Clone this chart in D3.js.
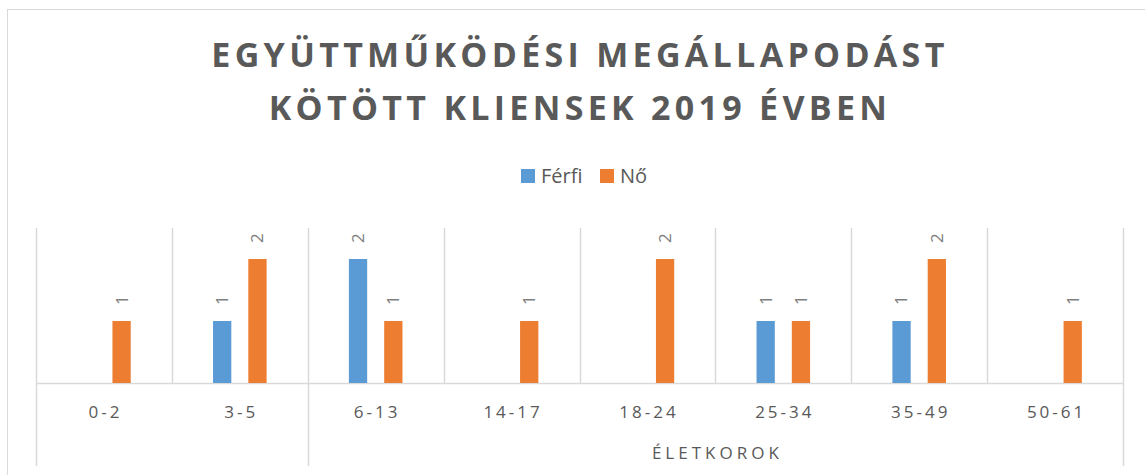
<!DOCTYPE html>
<html>
<head>
<meta charset="utf-8">
<script src="https://cdn.jsdelivr.net/npm/d3@7"></script>
<style>
  body { margin: 0; background: #fff; }
  text { font-family: "Open Sans", "DejaVu Sans", sans-serif; }
</style>
</head>
<body>
<div id="chart"></div>
<script>
// data
const titleLines = ["EGYÜTTMŰKÖDÉSI MEGÁLLAPODÁST", "KÖTÖTT KLIENSEK 2019 ÉVBEN"];
const categories = ["0-2", "3-5", "6-13", "14-17", "18-24", "25-34", "35-49", "50-61"];
const seriesNames = ["Férfi", "Nő"];
const ferfi = [null, 1, 2, null, null, 1, 1, null];
const no = [1, 2, 1, 1, 2, 1, 2, 1];
const groups = [
  { label: "", from: "0-2", to: "3-5" },
  { label: "ÉLETKOROK", from: "6-13", to: "50-61" }
];
const yMax = 2.5;

const colors = { "Férfi": "#5B9BD5", "Nő": "#ED7D31" };
const W = 1145, H = 475;
const plot = { left: 36, right: 1123, top: 228, bottom: 383 };

const svg = d3.select("#chart").append("svg")
    .attr("width", W)
    .attr("height", H);

// outer chart border
svg.append("rect")
    .attr("x", 7.5).attr("y", 9.5)
    .attr("width", W).attr("height", H)
    .attr("fill", "none")
    .attr("stroke", "#D9D9D9");

// title
svg.append("text")
    .attr("text-anchor", "middle")
    .attr("fill", "#595959")
    .style("font-size", "34px")
    .style("font-weight", "bold")
    .style("letter-spacing", "4.3px")
  .selectAll("tspan")
  .data(titleLines)
  .enter().append("tspan")
    .attr("x", 580)
    .attr("y", (d, i) => 67 + i * 53)
    .text(d => d);

// scales
const x0 = d3.scaleBand()
    .domain(categories)
    .range([plot.left, plot.right])
    .padding(0);

const x1 = d3.scaleBand()
    .domain(seriesNames)
    .range([0, x0.bandwidth()])
    .paddingInner(0.482)
    .paddingOuter(1.166);

const y = d3.scaleLinear()
    .domain([0, yMax])
    .range([plot.bottom, plot.top]);

// legend
const legend = svg.append("g").attr("transform", "translate(521,169)");
const legendX = [0, 79];
seriesNames.forEach((name, i) => {
  const g = legend.append("g").attr("transform", `translate(${legendX[i]},0)`);
  g.append("rect")
      .attr("width", 14).attr("height", 14)
      .attr("fill", colors[name]);
  g.append("text")
      .attr("x", 20).attr("y", 14)
      .attr("fill", "#595959")
      .style("font-size", "20px")
      .text(name);
});

// vertical gridlines at category boundaries
const boundaries = categories.map(c => x0(c)).concat([plot.right]);
const groupEdges = new Set();
groups.forEach(g => {
  groupEdges.add(Math.round(x0(g.from)));
  groupEdges.add(Math.round(x0(g.to) + x0.bandwidth()));
});

svg.append("g").selectAll("line")
  .data(boundaries)
  .enter().append("line")
    .attr("x1", d => Math.round(d) + 0.5)
    .attr("x2", d => Math.round(d) + 0.5)
    .attr("y1", plot.top)
    .attr("y2", d => groupEdges.has(Math.round(d)) ? 466 : plot.bottom)
    .attr("stroke", "#D9D9D9")
    .attr("stroke-width", 1.5);

// axis line
svg.append("line")
    .attr("x1", plot.left).attr("x2", plot.right)
    .attr("y1", plot.bottom + 0.5).attr("y2", plot.bottom + 0.5)
    .attr("stroke", "#D9D9D9")
    .attr("stroke-width", 1.5);

// bars
const rows = categories.map((c, i) => ({ cat: c, "Férfi": ferfi[i], "Nő": no[i] }));
const barData = [];
rows.forEach(r => seriesNames.forEach(s => {
  if (r[s] != null) barData.push({ cat: r.cat, key: s, value: r[s] });
}));

svg.append("g").selectAll("rect")
  .data(barData)
  .enter().append("rect")
    .attr("x", d => x0(d.cat) + x1(d.key))
    .attr("y", d => y(d.value))
    .attr("width", x1.bandwidth())
    .attr("height", d => y(0) - y(d.value))
    .attr("fill", d => colors[d.key]);

// rotated value labels
svg.append("g").selectAll("text")
  .data(barData)
  .enter().append("text")
    .attr("transform", d => `translate(${x0(d.cat) + x1(d.key) + x1.bandwidth() / 2},${y(d.value) - 16}) rotate(-90)`)
    .attr("dy", "0.35em")
    .attr("fill", "#7F7F7F")
    .style("font-size", "17px")
    .text(d => d.value);

// category labels
svg.append("g").selectAll("text")
  .data(categories)
  .enter().append("text")
    .attr("x", d => x0(d) + x0.bandwidth() / 2 + 1.5)
    .attr("y", 418)
    .attr("text-anchor", "middle")
    .attr("fill", "#595959")
    .style("font-size", "17px")
    .style("letter-spacing", "3px")
    .text(d => d);

// outer group labels
svg.append("g").selectAll("text")
  .data(groups)
  .enter().append("text")
    .attr("x", d => (x0(d.from) + x0(d.to) + x0.bandwidth()) / 2 + 2)
    .attr("y", 459)
    .attr("text-anchor", "middle")
    .attr("fill", "#595959")
    .style("font-size", "17px")
    .style("letter-spacing", "4px")
    .text(d => d.label);
</script>
</body>
</html>
